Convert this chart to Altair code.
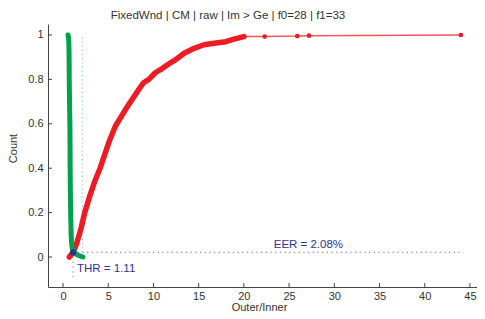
import altair as alt
import pandas as pd

# ---- data ----
green_x = [0.55, 0.60, 0.64, 0.67, 0.69, 0.72, 0.76, 0.78, 0.79, 0.81, 0.84, 0.87, 0.90, 0.94, 0.98, 1.05, 1.20, 1.45, 1.75, 2.00, 2.20]
green_y = [1.00, 0.99, 0.97, 0.92, 0.80, 0.70, 0.60, 0.50, 0.40, 0.30, 0.22, 0.15, 0.10, 0.07, 0.05, 0.035, 0.022, 0.013, 0.007, 0.003, 0.0]

red_dense_x = [0.70, 0.90, 1.11, 1.50, 2.00, 2.40, 3.00, 3.50, 4.10, 4.60, 5.10, 5.80, 6.40, 7.00, 7.64, 8.30, 8.90, 9.50, 10.2, 11.0, 11.6, 12.5, 13.4, 14.5, 15.6, 16.5, 17.8, 18.8, 20.0]
red_dense_y = [0.00, 0.01, 0.0208, 0.06, 0.13, 0.20, 0.28, 0.34, 0.40, 0.46, 0.52, 0.59, 0.63, 0.67, 0.71, 0.75, 0.785, 0.80, 0.83, 0.85, 0.867, 0.89, 0.918, 0.94, 0.956, 0.962, 0.968, 0.98, 0.993]
red_tail_x = [20.0, 22.3, 25.9, 27.2, 44.0]
red_tail_y = [0.993, 0.993, 0.995, 0.997, 1.0]

thr = 1.11
eer = 0.0208
green_max = 2.14
x_ticks = [0, 5, 10, 15, 20, 25, 30, 35, 40, 45]
y_ticks = [0, 0.2, 0.4, 0.6, 0.8, 1]
title_text = "FixedWnd | CM | raw | Im > Ge | f0=28 | f1=33"

RED = "#ED1C24"
GREEN = "#00A14B"
BLUE = "#2E3192"
FONT = "Liberation Sans"

W, H = 429, 263
xs = alt.Scale(domain=[-1.66, 45.78], nice=False, zero=False)
ys = alt.Scale(domain=[-0.135, 1.0495], nice=False, zero=False)

green_df = pd.DataFrame({"x": green_x, "y": green_y, "o": range(len(green_x))})
red_df = pd.DataFrame({"x": red_dense_x, "y": red_dense_y, "o": range(len(red_dense_x))})
tail_df = pd.DataFrame({"x": red_tail_x, "y": red_tail_y, "o": range(len(red_tail_x))})

X = alt.X("x:Q", scale=xs, axis=alt.Axis(values=x_ticks, title="Outer/Inner", titleX=211, titleY=20,
                                          titleBaseline="middle", titleAlign="center"))
Y = alt.Y("y:Q", scale=ys, axis=alt.Axis(values=y_ticks, format="~g", title="Count", titleX=-35, titleY=124,
                                          titleBaseline="middle", titleAlign="center", titleAngle=270))

base_axes = alt.Chart(pd.DataFrame({"x": [0.0], "y": [0.0]})).mark_point(opacity=0).encode(x=X, y=Y)

# dotted guide lines
gline = alt.Chart(pd.DataFrame({"x": [green_max], "y": [0.02], "y2": [1.0]})).mark_rule(
    color="#7FD4A8", strokeDash=[1.2, 3], strokeWidth=1.2).encode(x="x:Q", y="y:Q", y2="y2:Q")
hline = alt.Chart(pd.DataFrame({"x": [thr], "x2": [43.9], "y": [eer]})).mark_rule(
    color="#8585D2", strokeDash=[1.2, 3.5], strokeWidth=1.1).encode(x="x:Q", x2="x2:Q", y="y:Q")
vline = alt.Chart(pd.DataFrame({"x": [thr], "y": [eer], "y2": [-0.102]})).mark_rule(
    color="#8585D2", strokeDash=[1.2, 3.5], strokeWidth=1.1).encode(x="x:Q", y="y:Q", y2="y2:Q")

green_line = alt.Chart(green_df).mark_line(color=GREEN, strokeWidth=5, strokeCap="round", strokeJoin="round").encode(
    x="x:Q", y="y:Q", order="o:Q")
red_tail = alt.Chart(tail_df).mark_line(color=RED, strokeWidth=1.5, opacity=0.75).encode(x="x:Q", y="y:Q", order="o:Q")
red_tail_pts = alt.Chart(tail_df).mark_circle(color=RED, size=22, opacity=1).encode(x="x:Q", y="y:Q")
red_line = alt.Chart(red_df).mark_line(color=RED, strokeWidth=5.5, strokeCap="round", strokeJoin="round").encode(
    x="x:Q", y="y:Q", order="o:Q")

dot = alt.Chart(pd.DataFrame({"x": [thr], "y": [eer]})).mark_circle(color=BLUE, size=40, opacity=1).encode(
    x="x:Q", y="y:Q")

eer_txt = alt.Chart(pd.DataFrame({"x": [23.3], "y": [0.053], "t": ["EER = 2.08%"]})).mark_text(
    align="left", baseline="middle", font=FONT, fontSize=11.5, color=BLUE).encode(x="x:Q", y="y:Q", text="t:N")
thr_txt = alt.Chart(pd.DataFrame({"x": [1.55], "y": [-0.053], "t": ["THR = 1.11"]})).mark_text(
    align="left", baseline="middle", font=FONT, fontSize=11.5, color=BLUE).encode(x="x:Q", y="y:Q", text="t:N")

# inward tick marks
xt = alt.Chart(pd.DataFrame({"x": x_ticks})).mark_rule(color="#444", strokeWidth=1).encode(
    x="x:Q", y=alt.value(H), y2=alt.value(H - 4))
yt = alt.Chart(pd.DataFrame({"y": y_ticks})).mark_rule(color="#444", strokeWidth=1).encode(
    y="y:Q", x=alt.value(0), x2=alt.value(4))

title = alt.Chart(pd.DataFrame({"t": [title_text]})).mark_text(
    align="center", baseline="middle", font=FONT, fontSize=11.5, color="#333").encode(
    x=alt.value(180), y=alt.value(-8.5), text="t:N")

chart = alt.layer(base_axes, gline, hline, vline, red_tail, red_tail_pts, red_line, green_line, dot,
                  eer_txt, thr_txt, xt, yt, title).properties(
    width=W, height=H, autosize="none",
    padding={"left": 40, "top": 16, "right": 0, "bottom": 24},
).configure_view(stroke=None).configure_axis(
    grid=False, ticks=False, domainColor="#444", domainWidth=1,
    labelFont=FONT, labelFontSize=11, labelColor="#333", labelPadding=3,
    titleFont=FONT, titleFontSize=11, titleColor="#333", titleFontWeight="normal",
).configure_axisY(labelPadding=5)

chart.save("out.html", embed_options={"renderer": "svg", "actions": False})
